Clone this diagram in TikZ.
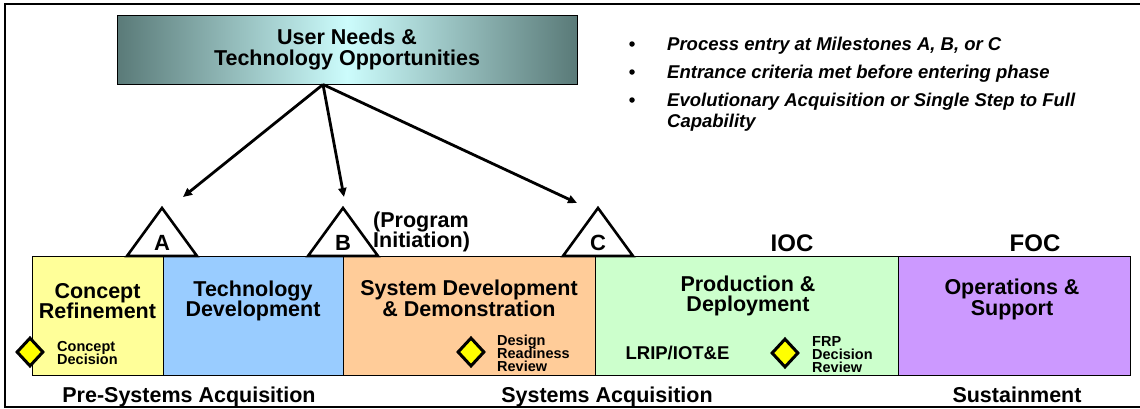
\documentclass[tikz,border=0pt]{standalone}
\usepackage{fontspec}
\setmainfont{Liberation Sans}
\usetikzlibrary{shapes.geometric,arrows.meta}
\definecolor{tealedge}{HTML}{5A7A78}
\definecolor{tealmid}{HTML}{CCFCFC}
\definecolor{conceptyellow}{HTML}{FFFF99}
\definecolor{techblue}{HTML}{99CCFF}
\definecolor{sddpeach}{HTML}{FFCC99}
\definecolor{prodgreen}{HTML}{CCFFCC}
\definecolor{opspurple}{HTML}{CC99FF}
\definecolor{decisionyellow}{HTML}{FFFF00}

\begin{document}
\begin{tikzpicture}[x=1pt,y=-1pt]
\tikzstyle{every node}+=[inner sep=0pt]
\tikzstyle{phase}=[draw=black,line width=1.4pt,anchor=north west,minimum height=119pt]
\tikzstyle{phasetext}=[font={\bfseries\fontsize{21.5}{20.5}\selectfont\lineskiplimit=-50pt},align=center]
\tikzstyle{bullettext}=[font={\bfseries\itshape\fontsize{18.5}{21}\selectfont\lineskiplimit=-50pt},align=left,anchor=west]
\tikzstyle{smalltext}=[font={\bfseries\fontsize{14.5}{13}\selectfont\lineskiplimit=-50pt},align=left,anchor=west]
\tikzstyle{decision}=[diamond,draw=black,fill=decisionyellow,line width=3pt,minimum width=27pt,minimum height=29pt]
\tikzstyle{milestone}=[draw=black,fill=white,line width=2.6pt,line join=miter]
\tikzstyle{mslabel}=[font=\bfseries\fontsize{22}{22}\selectfont]
\tikzstyle{dot}=[circle,fill=black,minimum size=5.5pt]
\tikzstyle{feed}=[line width=2.8pt,-{Triangle[length=9pt,width=8pt]}]
\useasboundingbox (0,0) rectangle (1140,408);

% frame
\draw [black,line width=2pt] (1140,4) -- (5,4) -- (5,406.5) -- (1140,406.5);

% user needs box
\node [draw=black,line width=1pt,left color=tealedge,right color=tealedge,middle color=tealmid,
  minimum width=460pt,minimum height=69pt,phasetext] (needs) at (347,49.5) {User Needs \&\\Technology Opportunities};

% bullets
\node [dot] (d1) at (632,44) {};
\node [bullettext] (t1) at (667,45.5) {Process entry at Milestones A, B, or C};
\node [dot] (d2) at (632,72) {};
\node [bullettext] (t2) at (667,73.5) {Entrance criteria met before entering phase};
\node [dot] (d3) at (632,100) {};
\node [bullettext] (t3) at (667,112) {Evolutionary Acquisition or Single Step to Full\\Capability};

% phases
\node [phase,fill=conceptyellow,minimum width=131pt] (cr) at (32,256) {};
\node [phase,fill=techblue,minimum width=180pt] (td) at (163,256) {};
\node [phase,fill=sddpeach,minimum width=252pt] (sdd) at (343,256) {};
\node [phase,fill=prodgreen,minimum width=303pt] (pd) at (595,256) {};
\node [phase,fill=opspurple,minimum width=232pt] (os) at (898,256) {};
\node [phasetext] (crt) at (97.5,301) {Concept\\Refinement};
\node [phasetext] (tdt) at (253,301) {Technology\\Development};
\node [phasetext] (sddt) at (469,298.5) {System Development\\\& Demonstration};
\node [phasetext] (pdt) at (748,296) {Production \&\\Deployment};
\node [phasetext] (ost) at (1012,299.5) {Operations \&\\Support};

% milestones
\coordinate (apexA) at (162,208);
\coordinate (apexB) at (343,208);
\coordinate (apexC) at (598,208);
\draw [milestone] (apexA) -- ++(35,48) -- ++(-70,0) -- cycle;
\draw [milestone] (apexB) -- ++(35,48) -- ++(-70,0) -- cycle;
\draw [milestone] (apexC) -- ++(35,48) -- ++(-70,0) -- cycle;
\node [mslabel] (la) at (162,243) {A};
\node [mslabel] (lb) at (343,243) {B};
\node [mslabel] (lc) at (598,243) {C};
\node [phasetext,align=left,anchor=west] (pi) at (373,232) {(Program\\Initiation)};
\node [mslabel,font=\bfseries\fontsize{24}{24}\selectfont] (ioc) at (792,243) {IOC};
\node [mslabel,font=\bfseries\fontsize{24}{24}\selectfont] (foc) at (1035,243) {FOC};

% decision points
\node [decision] (cd) at (30,352) {};
\node [smalltext] (cdt) at (57,353) {Concept\\Decision};
\node [decision] (drr) at (471,352) {};
\node [smalltext] (drrt) at (497,353) {Design\\Readiness\\Review};
\node [font=\bfseries\fontsize{18.5}{18.5}\selectfont] (lrip) at (677.5,353) {LRIP/IOT\&E};
\node [decision] (frp) at (785,353) {};
\node [smalltext] (frpt) at (812,355) {FRP\\Decision\\Review};

% acquisition stages
\node [phasetext,anchor=base] (pre) at (189,402) {Pre-Systems Acquisition};
\node [phasetext,anchor=base] (sys) at (607,402) {Systems Acquisition};
\node [phasetext,anchor=base] (sus) at (1017,402) {Sustainment};

% entry arrows
\coordinate (src) at ([xshift=-24pt]needs.south);
\coordinate (tipA) at (183,197);
\coordinate (tipB) at (344,197);
\coordinate (tipC) at (577,203);
\draw [feed] (src) -- (tipA);
\draw [feed] (src) -- (tipB);
\draw [feed] (src) -- (tipC);
\end{tikzpicture}
\end{document}
